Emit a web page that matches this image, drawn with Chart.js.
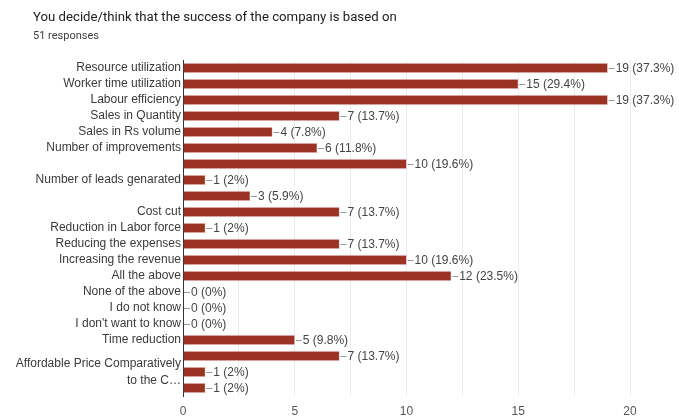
<!DOCTYPE html>
<html>
<head>
<meta charset="utf-8">
<script src="https://cdn.jsdelivr.net/npm/chart.js@4/dist/chart.umd.min.js"></script>
<style>
  html, body { margin: 0; padding: 0; background: #fff; }
  #wrap { position: relative; width: 679px; height: 417px; }
  #title { position: absolute; left: 33px; top: 9px; font: 13.2px Roboto, Arial, sans-serif; color: #202124; white-space: nowrap; }
  #sub { position: absolute; left: 33px; top: 29px; font: 11px Roboto, Arial, sans-serif; color: #3c4043; }
</style>
</head>
<body>
<div id="wrap">
  <div id="title">You decide/think that the success of the company is based on</div>
  <div id="sub">51 responses</div>
  <canvas id="chart"></canvas>
</div>
<script>
const categories = [
  'Resource utilization', 'Worker time utilization', 'Labour efficiency',
  'Sales in Quantity', 'Sales in Rs volume', 'Number of improvements', '',
  'Number of leads genarated', '', 'Cost cut', 'Reduction in Labor force',
  'Reducing the expenses', 'Increasing the revenue', 'All the above',
  'None of the above', 'I do not know', "I don't want to know", 'Time reduction',
  '', ['Affordable Price Comparatively', 'to the C\u2026'], ''
];
const counts = [19, 15, 19, 7, 4, 6, 10, 1, 3, 7, 1, 7, 10, 12, 0, 0, 0, 5, 7, 1, 1];
const percents = ['37.3%', '29.4%', '37.3%', '13.7%', '7.8%', '11.8%', '19.6%', '2%', '5.9%',
  '13.7%', '2%', '13.7%', '19.6%', '23.5%', '0%', '0%', '0%', '9.8%', '13.7%', '2%', '2%'];
const xTicks = [0, 5, 10, 15, 20];

// etiket "—19 (37.3%)" di ujung batang
const valueLabels = {
  id: 'valueLabels',
  afterDatasetsDraw(chart) {
    const ctx = chart.ctx;
    const meta = chart.getDatasetMeta(0);
    ctx.save();
    ctx.font = '12px "Liberation Sans", Arial, sans-serif';
    ctx.textBaseline = 'middle';
    ctx.textAlign = 'left';
    meta.data.forEach((bar, i) => {
      const x = bar.x + 1;
      ctx.strokeStyle = '#999';
      ctx.lineWidth = 1;
      ctx.beginPath();
      ctx.moveTo(x, Math.round(bar.y) + 0.5);
      ctx.lineTo(x + 6, Math.round(bar.y) + 0.5);
      ctx.stroke();
      ctx.fillStyle = '#444';
      ctx.fillText(counts[i] + ' (' + percents[i] + ')', x + 7, bar.y + 0.5);
    });
    ctx.restore();
  }
};

new Chart(document.getElementById('chart'), {
  type: 'bar',
  data: {
    labels: categories,
    datasets: [{
      data: counts,
      backgroundColor: '#9a3324',
      borderColor: '#b8574a',
      borderWidth: 0.5,
      barPercentage: 0.58,
      categoryPercentage: 1
    }]
  },
  options: {
    indexAxis: 'y',
    responsive: true,
    maintainAspectRatio: false,
    animation: false,
    layout: { padding: { top: 60, right: 49, left: 0, bottom: 0 } },
    plugins: { legend: { display: false }, tooltip: { enabled: false } },
    scales: {
      x: {
        min: 0, max: 20,
        afterFit: (s) => { s.height = 21; },
        afterBuildTicks: (s) => {
          const t = [];
          for (let v = 0; v <= 20; v += 2.5) t.push({ value: v });
          s.ticks = t;
        },
        ticks: {
          padding: 8,
          maxRotation: 0,
          autoSkip: false,
          color: '#555',
          font: { family: '"Liberation Sans", Arial, sans-serif', size: 12 },
          callback: (v) => xTicks.includes(v) ? String(v) : ''
        },
        grid: {
          drawTicks: false,
          color: (c) => c.tick && c.tick.value === 0 ? 'rgba(0,0,0,0)' : '#ececec'
        },
        border: { display: false }
      },
      y: {
        afterFit: (s) => { s.width = 183; },
        ticks: {
          padding: 2,
          autoSkip: false,
          color: '#3a3a3a',
          font: { family: '"Liberation Sans", Arial, sans-serif', size: 12, lineHeight: 1.4 }
        },
        grid: { display: false, drawTicks: false },
        border: { display: true, color: '#333', width: 1 }
      }
    }
  },
  plugins: [valueLabels]
});
</script>
</body>
</html>
